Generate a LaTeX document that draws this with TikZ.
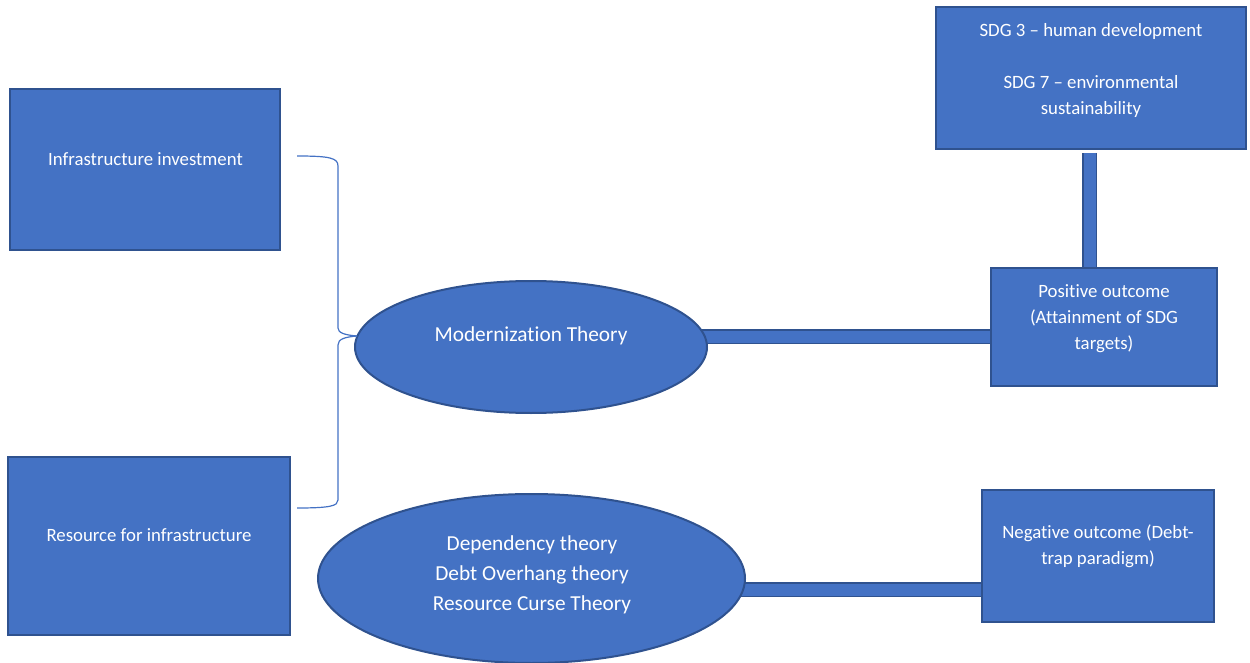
\documentclass[tikz,border=0pt]{standalone}
\usepackage{fontspec}
\setmainfont{Carlito}[Ligatures=NoCommon]
\usetikzlibrary{calc,shapes.geometric}
\definecolor{fillb}{HTML}{4472C4}
\definecolor{edgeb}{HTML}{2F528F}
\pgfdeclarelayer{bg}
\pgfsetlayers{bg,main}
\newcommand\pxu{0.75pt}
\tikzset{
  shapebase/.style={draw=edgeb, fill=fillb, line width=2*\pxu, inner sep=0pt},
  box/.style={shapebase, rectangle},
  oval/.style={shapebase, ellipse},
  bar/.style={draw=edgeb, line width=1.5*\pxu, double=fillb, double distance=12*\pxu},
  brace/.style={draw=fillb, line width=1.2*\pxu},
  smalltxt/.style={text=white, align=center, inner sep=0pt, font=\fontsize{14.1pt}{19.5pt}\selectfont},
  bigtxt/.style={text=white, align=center, inner sep=0pt, font=\fontsize{16pt}{22.5pt}\selectfont},
}
\begin{document}
\begin{tikzpicture}[x=0.75pt, y=-0.75pt]
\useasboundingbox (0,0) rectangle (1250,663);
% boxes
\node[box, minimum width=270*\pxu, minimum height=161*\pxu] (A) at (145,169.5) {};
\node[box, minimum width=282*\pxu, minimum height=178*\pxu] (B) at (149,546) {};
\node[box, minimum width=310*\pxu, minimum height=142*\pxu] (sdg) at (1091,78) {};
\node[box, minimum width=226*\pxu, minimum height=118*\pxu] (pos) at (1104,327) {};
\node[box, minimum width=232*\pxu, minimum height=132*\pxu] (neg) at (1098,556) {};
\node[oval, minimum width=352*\pxu, minimum height=132*\pxu] (mod) at (531,347) {};
\node[oval, minimum width=427*\pxu, minimum height=169*\pxu] (dep) at (531.5,578.5) {};
% texts
\node[smalltxt] (tA) at (145.5,159) {Infrastructure investment};
\node[smalltxt] (tB) at (149,535) {Resource for infrastructure};
\node[smalltxt] (tsdg) at (1091,70) {SDG 3 – human development\\[19.5pt]SDG 7 – environmental\\sustainability};
\node[smalltxt] (tpos) at (1104,319) {Positive outcome\\(Attainment of SDG\\targets)};
\node[smalltxt] (tneg) at (1098,546) {Negative outcome (Debt-\\trap paradigm)};
\node[bigtxt] (tmod) at (531,336) {Modernization Theory};
\node[bigtxt] (tdep) at (532,575) {Dependency theory\\Debt Overhang theory\\Resource Curse Theory};
% connectors
\begin{pgfonlayer}{bg}
\draw[bar] (mod.center |- 0,336.5) -- (pos.center |- 0,336.5);
\draw[bar] (dep.center |- 0,589.5) -- (neg.center |- 0,589.5);
\draw[bar] ($(sdg.south -| 1089.5,0)+(0,3)$) -- (pos.center -| 1089.5,0);
\end{pgfonlayer}
% brace
\coordinate (tip) at (357,336);
\draw[brace] (297,156) .. controls (330,156) and (338,158) .. (338,166) -- (338,328) .. controls (338,333) and (345,335) .. (tip);
\draw[brace] (tip) .. controls (345,337) and (338,339) .. (338,345) -- (338,500) .. controls (338,506) and (330,508) .. (297,508);
\end{tikzpicture}
\end{document}
